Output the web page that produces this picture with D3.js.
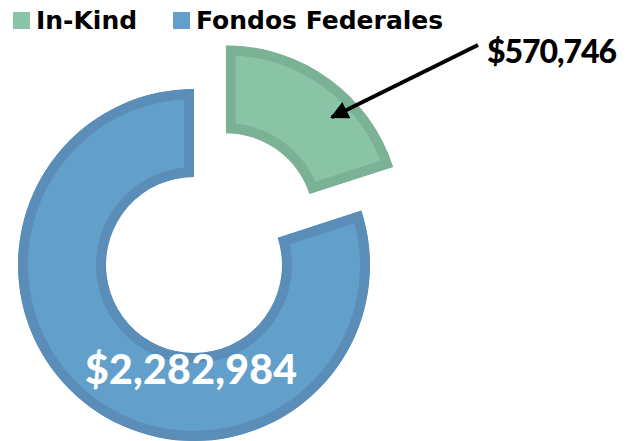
<!DOCTYPE html>
<html>
<head>
<meta charset="utf-8">
<script src="https://cdn.jsdelivr.net/npm/d3@7"></script>
<style>
  body { margin: 0; background: #fff; }
  svg { display: block; }
</style>
</head>
<body>
<script>
// donut: in-kind vs federal funds
const categories = ['In-Kind', 'Fondos Federales'];
const amounts = [570746, 2282984];
const valueLabels = ['$570,746', '$2,282,984'];
const fills = ['#89c4a6', '#629fca'];
const strokes = ['#7bb296', '#5a8eb8'];

const width = 631, height = 441;
const cx = 194, cy = 265;
const outerR = 176, innerR = 88;
const explode = 54;

const svg = d3.select('body').append('svg').attr('width', width).attr('height', height);

const pie = d3.pie().sort(null).value(d => d);
const arcs = pie(amounts);
const arc = d3.arc().innerRadius(innerR).outerRadius(outerR);

const chart = svg.append('g').attr('transform', `translate(${cx},${cy})`);
const defs = svg.append('defs');

arcs.forEach((a, i) => {
  const mid = (a.startAngle + a.endAngle) / 2;
  const off = i === 0 ? d3.pointRadial(mid, explode) : [0, 0];
  defs.append('clipPath').attr('id', 'clip' + i)
    .append('path').attr('d', arc(a));
  const g = chart.append('g').attr('transform', `translate(${off[0]},${off[1]})`);
  // stroke clipped to the slice so the border sits inside
  g.append('path')
    .attr('d', arc(a))
    .attr('fill', fills[i])
    .attr('stroke', strokes[i])
    .attr('stroke-width', 20)
    .attr('clip-path', `url(#clip${i})`);
});

// label on blue slice
const lblPos = d3.pointRadial(Math.PI, 108);
chart.append('text')
  .attr('x', lblPos[0] - 3).attr('y', lblPos[1])
  .attr('text-anchor', 'middle').attr('dominant-baseline', 'middle')
  .attr('fill', '#fff')
  .attr('textLength', 212).attr('lengthAdjust', 'spacing')
  .style('font', '900 41px Lato, "Open Sans", sans-serif')
  .text(valueLabels[1]);

// arrow annotation for in-kind
defs.append('marker').attr('id', 'head')
  .attr('viewBox', '0 0 10 10').attr('refX', 9).attr('refY', 5)
  .attr('markerWidth', 5.5).attr('markerHeight', 4.5).attr('orient', 'auto')
  .append('path').attr('d', 'M0,0L10,5L0,10z').attr('fill', '#000');

const a0 = arcs[0];
const off0 = d3.pointRadial((a0.startAngle + a0.endAngle) / 2, explode);
const tip = d3.pointRadial(Math.PI / 4, 150);
svg.append('line')
  .attr('x1', 478).attr('y1', 45)
  .attr('x2', cx + off0[0] + tip[0]).attr('y2', cy + off0[1] + tip[1] + 2)
  .attr('stroke', '#000').attr('stroke-width', 4)
  .attr('marker-end', 'url(#head)');

svg.append('text')
  .attr('x', 487).attr('y', 63)
  .attr('fill', '#000')
  .attr('textLength', 130).attr('lengthAdjust', 'spacing')
  .style('font', '900 32px Lato, "Open Sans", sans-serif')
  .text(valueLabels[0]);

// legend
const legendX = [13, 173];
const legend = svg.append('g');
categories.forEach((c, i) => {
  legend.append('rect')
    .attr('x', legendX[i]).attr('y', 12).attr('width', 17).attr('height', 17)
    .attr('fill', fills[i]);
  legend.append('text')
    .attr('x', legendX[i] + 23).attr('y', 29)
    .attr('fill', '#000')
    .style('font', 'bold 25px "DejaVu Sans", sans-serif')
    .text(c);
});
</script>
</body>
</html>
